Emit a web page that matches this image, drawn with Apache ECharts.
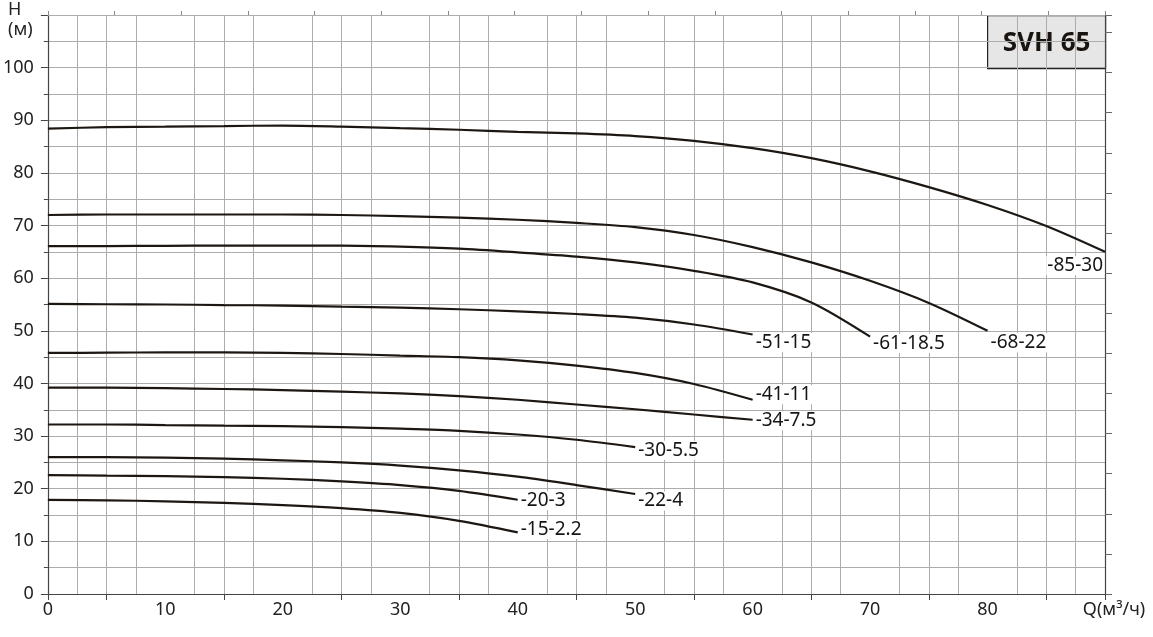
<!DOCTYPE html>
<html>
<head>
<meta charset="utf-8">
<script src="https://cdn.jsdelivr.net/npm/echarts@6/dist/echarts.min.js"></script>
<style>
  html, body { margin: 0; padding: 0; background: #fff; }
  #chart { width: 1153px; height: 637px; }
</style>
</head>
<body>
<div id="chart"></div>
<script>
// подача Q, м3/ч
var flow = [0, 5, 10, 15, 20, 25, 30, 35, 40, 45, 50, 55, 60, 65, 70, 75, 80, 85, 90];

// напор H, м (по моделям)
var h85_30 = [88.4, 88.7, 88.8, 88.9, 89.0, 88.8, 88.5, 88.2, 87.8, 87.5, 87.0, 86.1, 84.7, 82.8, 80.3, 77.3, 73.9, 69.9, 65.0];
var h68_22 = [72.0, 72.1, 72.1, 72.1, 72.1, 72.0, 71.8, 71.5, 71.1, 70.5, 69.7, 68.2, 65.9, 63.0, 59.5, 55.3, 50.0];
var h61_185 = [66.1, 66.1, 66.15, 66.2, 66.2, 66.2, 66.0, 65.6, 64.9, 64.1, 63.0, 61.4, 59.2, 55.4, 48.9];
var h51_15 = [55.1, 55.05, 55.0, 54.9, 54.8, 54.6, 54.4, 54.1, 53.7, 53.2, 52.5, 51.2, 49.3];
var h41_11 = [45.8, 45.85, 45.9, 45.9, 45.8, 45.6, 45.3, 45.0, 44.4, 43.4, 42.0, 39.9, 36.9];
var h34_75 = [39.2, 39.2, 39.1, 38.95, 38.75, 38.45, 38.1, 37.6, 36.9, 36.0, 35.1, 34.1, 33.1];
var h30_55 = [32.2, 32.2, 32.1, 32.0, 31.9, 31.7, 31.4, 31.0, 30.3, 29.3, 27.9];
var h22_4 = [26.0, 26.0, 25.9, 25.7, 25.4, 25.0, 24.4, 23.5, 22.3, 20.7, 19.0];
var h20_3 = [22.6, 22.5, 22.4, 22.2, 21.9, 21.4, 20.7, 19.6, 17.9];
var h15_22 = [17.9, 17.8, 17.6, 17.3, 16.9, 16.3, 15.4, 13.9, 11.7];

var curveNames = ['-85-30', '-68-22', '-61-18.5', '-51-15', '-41-11', '-34-7.5', '-30-5.5', '-22-4', '-20-3', '-15-2.2'];
var curveHeads = [h85_30, h68_22, h61_185, h51_15, h41_11, h34_75, h30_55, h22_4, h20_3, h15_22];

var xTickMarks = [0, 5, 15, 25, 35, 45, 55, 65, 75, 85, 90];
var xAxisTitle = 'Q(м³/ч)';
var yAxisTitle = 'H\n(м)';
var modelTitle = 'SVH 65';

// где подписи стоят относительно конца кривой: [align, dx, dy]
var labelPos = [
  ['right', -1, 14],
  ['left', 2, 12],
  ['left', 2, 7],
  ['left', 2, 8],
  ['left', 2, -5],
  ['left', 2, 1],
  ['left', 2, 3],
  ['left', 2, 7],
  ['left', 2, 1],
  ['left', 2, -3]
];

var font = 'Noto Sans';
var gridColor = '#acacac';
var axisColor = '#444';

var myChart = echarts.init(document.getElementById('chart'));

var series = curveNames.map(function (name, i) {
  var heads = curveHeads[i];
  var pts = heads.map(function (h, j) { return [flow[j], h]; });
  var last = pts[pts.length - 1];
  var p = labelPos[i];
  return {
    name: name,
    type: 'line',
    data: pts,
    smooth: 0.3,
    symbol: 'none',
    lineStyle: { color: '#1c1712', width: 2.2 },
    markPoint: {
      symbol: 'circle',
      symbolSize: 0,
      silent: true,
      data: [{ coord: last }],
      label: {
        show: true,
        formatter: name,
        position: [p[1], p[2]],
        align: p[0],
        verticalAlign: 'middle',
        fontFamily: font,
        fontSize: 19,
        color: '#151515',
        backgroundColor: '#fff',
        padding: [0, 1]
      }
    }
  };
});

var option = {
  animation: false,
  backgroundColor: '#fff',
  grid: { left: 47, right: 48, top: 15, bottom: 43 },
  xAxis: [
    {
      type: 'value',
      min: 0,
      max: 90,
      interval: 10,
      axisLine: { show: true, onZero: false, lineStyle: { color: axisColor, width: 1.2 } },
      axisTick: { show: true, inside: false, length: 6, customValues: xTickMarks, lineStyle: { color: axisColor } },
      axisLabel: {
        margin: 7,
        fontFamily: font,
        fontSize: 18,
        color: '#222',
        formatter: function (v) { return v === 90 ? '{q|' + xAxisTitle + '}' : v; },
        rich: { q: { fontFamily: font, fontSize: 18, color: '#222', padding: [0, 0, 0, 18] } }
      },
      splitLine: { show: true, lineStyle: { color: gridColor, width: 1 } },
      minorTick: { show: false, splitNumber: 4 },
      minorSplitLine: { show: true, lineStyle: { color: gridColor, width: 1 } }
    },
    {
      // шкала в gpm сверху
      type: 'value',
      position: 'top',
      min: 0,
      max: 90 * 4.4029,
      interval: 25,
      axisLine: { show: true, onZero: false, lineStyle: { color: gridColor } },
      axisTick: { show: true, inside: false, length: 4, lineStyle: { color: '#888' } },
      axisLabel: { show: false },
      splitLine: { show: false }
    }
  ],
  yAxis: [
    {
      type: 'value',
      min: 0,
      max: 110,
      interval: 10,
      axisLine: { show: true, onZero: false, lineStyle: { color: axisColor, width: 1.2 } },
      axisTick: { show: true, inside: false, length: 7, lineStyle: { color: axisColor } },
      minorTick: { show: true, splitNumber: 2, length: 4, lineStyle: { color: axisColor } },
      axisLabel: {
        margin: 14,
        fontFamily: font,
        fontSize: 18,
        color: '#222',
        formatter: function (v) { return v >= 110 ? '' : v; }
      },
      splitLine: { show: true, lineStyle: { color: gridColor, width: 1 } },
      minorSplitLine: { show: true, lineStyle: { color: gridColor, width: 1 } }
    },
    {
      // шкала в футах справа
      type: 'value',
      position: 'right',
      min: 0,
      max: 110 / 0.3048,
      interval: 25,
      axisLine: { show: true, onZero: false, lineStyle: { color: axisColor, width: 1.2 } },
      axisTick: { show: true, inside: false, length: 7, lineStyle: { color: '#666' } },
      axisLabel: { show: false },
      splitLine: { show: false }
    }
  ],
  graphic: [
    {
      type: 'text',
      left: 8,
      top: 0,
      z: 100,
      style: {
        text: yAxisTitle,
        fontFamily: font,
        fontSize: 18,
        lineHeight: 20,
        fill: '#222',
        align: 'center'
      }
    },
    {
      type: 'group',
      left: 987,
      top: 15,
      z: 100,
      children: [
        {
          type: 'rect',
          shape: { x: 0, y: 0, width: 118, height: 53 },
          style: { fill: '#e6e6e6', stroke: '#222', lineWidth: 1.2 }
        },
        {
          type: 'text',
          x: 59,
          y: 28,
          style: {
            text: modelTitle,
            fontFamily: font,
            fontWeight: 'bold',
            fontSize: 26,
            fill: '#1a1410',
            align: 'center',
            verticalAlign: 'middle'
          }
        }
      ]
    }
  ],
  series: series
};

myChart.setOption(option);
</script>
</body>
</html>
